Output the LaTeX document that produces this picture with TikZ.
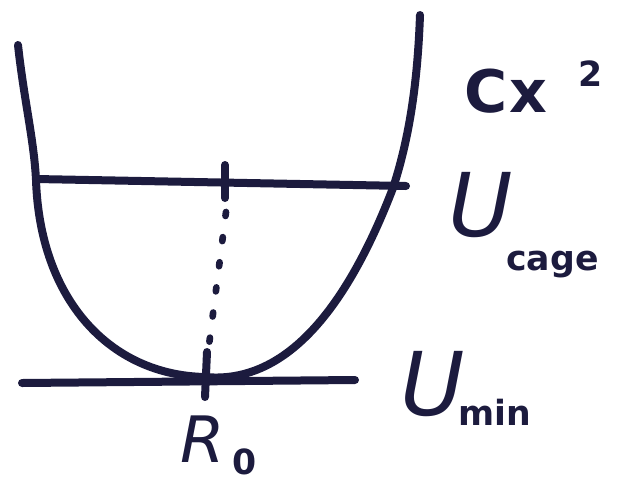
\documentclass[tikz,border=0pt]{standalone}
\usepackage{fontspec}
\setmainfont{DejaVu Sans}
\begin{document}
\begin{tikzpicture}[x=0.75pt,y=-0.75pt,
  ink/.style={draw=inkc,line width=6pt,line cap=round,line join=round},
  lbl/.style={text=inkc,inner sep=0pt,font=\fontsize{44}{50}\selectfont\bfseries},
  big/.style={text=inkc,inner sep=0pt,font=\fontsize{66}{70}\selectfont\itshape},
  sub/.style={text=inkc,inner sep=0pt,font=\fontsize{26}{30}\selectfont\bfseries}]
\definecolor{inkc}{HTML}{1C1B3E}
\useasboundingbox (0,0) rectangle (638,486);
% curve
\coordinate (lt) at (18,45);
\coordinate (lm) at (36,180);
\coordinate (bot) at (205,377);
\coordinate (rm) at (393,188);
\coordinate (rt) at (420,15);
\draw[ink] (lt) .. controls (24,100) and (34,140) .. (lm)
  .. controls (40,300) and (110,375) .. (bot)
  .. controls (290,385) and (350,300) .. (rm)
  .. controls (412,130) and (418,70) .. (rt);
% upper level line
\coordinate (ua) at (36,179);
\coordinate (ub) at (406,186);
\draw[ink] (ua) -- (ub);
\coordinate (t1a) at (225,165);
\coordinate (t1b) at (225,198);
\draw[ink] (t1a) -- (t1b);
% dotted line
\coordinate (da) at (226,212);
\coordinate (db) at (209,345);
\draw[draw=inkc,line width=5pt,line cap=round,dash pattern=on 3pt off 16pt] (da) -- (db);
% lower line
\coordinate (la) at (22,383);
\coordinate (lb) at (355,380);
\draw[ink] (la) -- (lb);
\coordinate (t2a) at (207,352);
\coordinate (t2b) at (205,397);
\draw[ink] (t2a) -- (t2b);
% labels
\node[lbl,anchor=base west] (cx) at (464,112) {C\kern2pt x};
\node[sub,anchor=base west] (two) at (578,86) {2};
\node[big,anchor=base west] (uc) at (448,236) {U};
\node[sub,anchor=base west] (cage) at (506,270) {cage};
\node[big,anchor=base west] (um) at (400,415) {U};
\node[sub,anchor=base west] (min) at (458,425) {min};
\node[big,anchor=base west,font=\fontsize{48}{52}\selectfont\itshape] (r) at (180,462) {R};
\node[sub,anchor=base west] (zero) at (232,474) {0};
\end{tikzpicture}
\end{document}
